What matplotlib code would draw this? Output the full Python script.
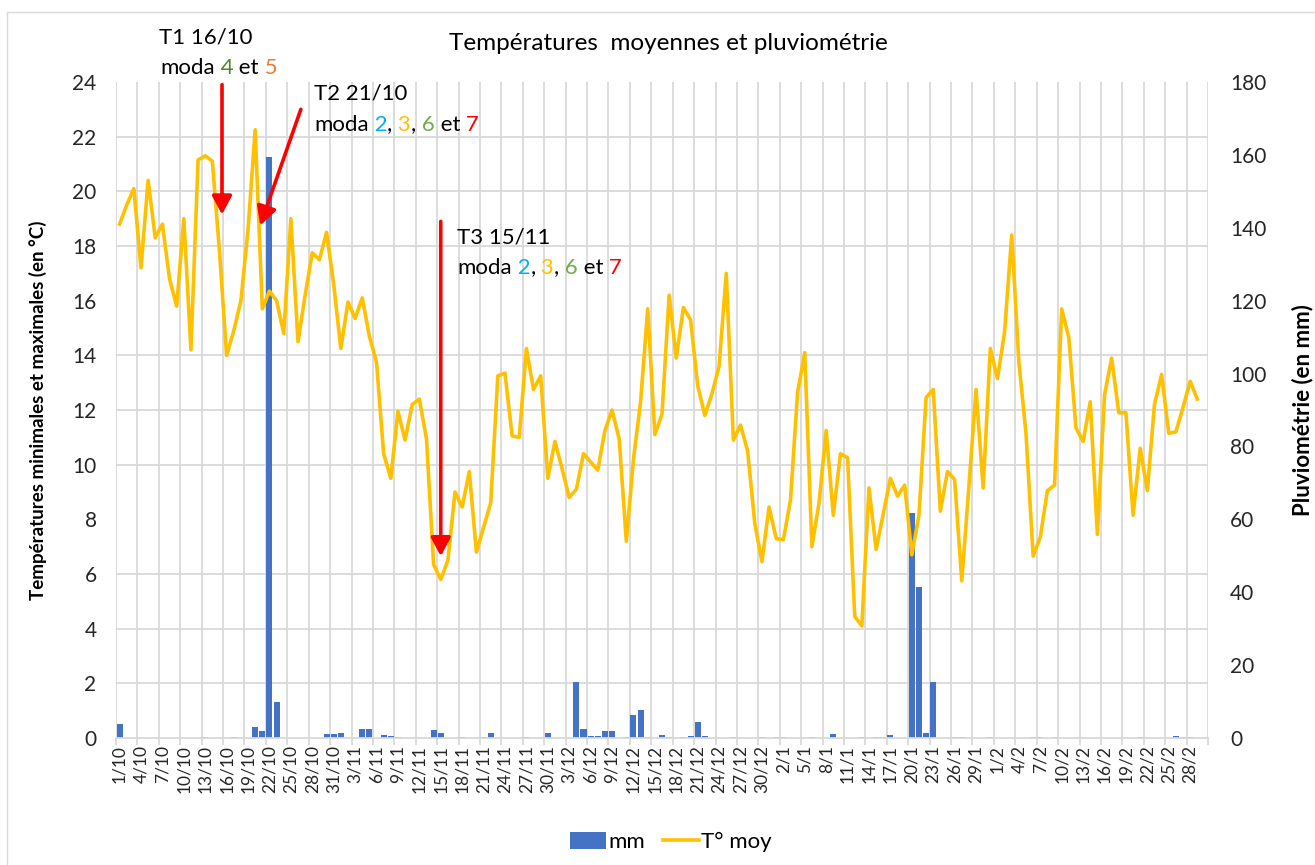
import numpy as np
import matplotlib
matplotlib.use('Agg')
import matplotlib.pyplot as plt
from matplotlib.patches import FancyArrowPatch, Rectangle

plt.rcParams['font.family'] = ['Lato', 'DejaVu Sans']

#one category per day, 1/10 to 2/3
months = [(10, 31), (11, 30), (12, 31), (1, 31), (2, 28), (3, 2)]
dates = [f'{d}/{m}' for m, n in months for d in range(1, n + 1)]

#mean temperature (°C), 1/10 -> 1/3
t_moy = [18.8, 19.5, 20.1, 17.2, 20.4, 18.3, 18.8, 16.8, 15.8, 19.0,
         14.2, 21.15, 21.3, 21.1, 17.8, 14.0, 14.9, 16.0, 18.6, 22.25,
         15.7, 16.35, 16.0, 14.8, 19.0, 14.5, 16.2, 17.75, 17.5, 18.5,
         16.6, 14.25, 15.95, 15.35, 16.1, 14.7, 13.75, 10.4, 9.5, 11.95,
         10.9, 12.2, 12.4, 10.95, 6.35, 5.8, 6.5, 9.0, 8.45, 9.75,
         6.8, 7.7, 8.6, 13.25, 13.35, 11.05, 11.0, 14.25, 12.75, 13.25,
         9.5, 10.85, 9.85, 8.8, 9.1, 10.4, 10.1, 9.8, 11.25, 12.0,
         10.95, 7.2, 10.2, 12.3, 15.7, 11.1, 11.85, 16.2, 13.9, 15.75,
         15.3, 12.9, 11.8, 12.6, 13.6, 17.0, 10.9, 11.45, 10.5, 7.85,
         6.45, 8.45, 7.3, 7.25, 8.7, 12.65, 14.1, 7.0, 8.6, 11.25,
         8.15, 10.4, 10.25, 4.45, 4.1, 9.15, 6.9, 8.2, 9.5, 8.85,
         9.25, 6.7, 8.15, 12.45, 12.75, 8.3, 9.75, 9.45, 5.75, 9.2,
         12.75, 9.15, 14.25, 13.15, 14.85, 18.4, 13.75, 11.15, 6.65, 7.35,
         9.05, 9.25, 15.7, 14.65, 11.35, 10.85, 12.3, 7.45, 12.55, 13.9,
         11.9, 11.9, 8.15, 10.6, 9.05, 12.2, 13.3, 11.15, 11.2, 12.1,
         13.05, 12.4]

#rainfall (mm), only the days with rain
rain_dates = ['1/10', '13/10', '17/10', '20/10', '21/10', '22/10', '23/10', '30/10',
              '31/10', '1/11', '4/11', '5/11', '7/11', '8/11', '9/11', '14/11',
              '15/11', '18/11', '21/11', '22/11', '27/11', '30/11', '4/12', '5/12',
              '6/12', '7/12', '8/12', '9/12', '11/12', '12/12', '13/12', '14/12',
              '16/12', '17/12', '19/12', '20/12', '21/12', '22/12', '26/12', '30/12',
              '1/1', '2/1', '6/1', '9/1', '13/1', '15/1', '16/1', '17/1',
              '20/1', '21/1', '22/1', '23/1', '26/1', '27/1', '31/1', '6/2',
              '7/2', '9/2', '21/2', '26/2', '27/2', '28/2']
rain_mm = [3.9, 0.3, 0.3, 2.9, 1.8, 159.5, 9.9, 1.0,
           1.0, 1.4, 2.6, 2.6, 0.7, 0.5, 0.4, 2.3,
           1.4, 0.3, 0.4, 1.4, 0.3, 1.5, 15.4, 2.4,
           0.5, 0.5, 1.8, 1.8, 0.3, 6.3, 7.6, 0.4,
           0.9, 0.4, 0.3, 0.6, 4.5, 0.6, 0.3, 0.3,
           0.3, 0.3, 0.3, 1.0, 0.3, 0.3, 0.4, 0.7,
           61.8, 41.5, 1.5, 15.3, 0.3, 0.3, 0.3, 0.3,
           0.3, 0.3, 0.3, 0.6, 0.4, 0.3]

x = np.arange(len(dates))
temp = np.full(len(dates), np.nan)
temp[:len(t_moy)] = t_moy
mm = np.zeros(len(dates))
for d, v in zip(rain_dates, rain_mm):
	mm[dates.index(d)] = v

dark = '#262626'
grid_c = '#D9D9D9'

fig = plt.figure(figsize=(13.15, 8.65), dpi=100)
W, H = 1315, 865
ax = fig.add_axes([116 / W, 1 - 738 / H, 1092 / W, 656 / H])
ax2 = ax.twinx()

#rain bars on the secondary (right) scale, drawn under the line
ax.bar(x, mm, width=0.85, color='#4472C4', label='mm', zorder=2)
ax.set_xlim(-0.5, len(dates) - 0.5)
ax.set_ylim(0, 180)
ax.yaxis.tick_right()
ax.yaxis.set_label_position('right')
ax.set_yticks(np.arange(0, 181, 20))
ax.set_yticks(np.arange(0, 181, 15), minor=True)
ax.set_xticks(x[::3])
ax.set_xticklabels(dates[::3], rotation=90)
ax.set_xticks(np.arange(-0.5, len(dates), 3), minor=True)
ax.set_axisbelow(True)
ax.grid(which='minor', color=grid_c, lw=1.3)
ax.tick_params(axis='x', which='major', length=0, pad=5, labelsize=12.5, labelcolor=dark)
ax.tick_params(axis='x', which='minor', length=5, color=grid_c, width=1.3)
ax.tick_params(axis='y', which='both', length=0, pad=16, labelsize=15, labelcolor=dark)
ax.set_ylabel('Pluviométrie (en mm)', fontsize=16, fontweight='bold', color='black')
ax.yaxis.set_label_coords(1.077, 0.5)

#temperature on the primary (left) scale
ax2.plot(x, temp, color='#FFC000', lw=2.6, label='T° moy', solid_joinstyle='round')
ax2.set_ylim(0, 24)
ax2.yaxis.tick_left()
ax2.yaxis.set_label_position('left')
ax2.set_yticks(np.arange(0, 25, 2))
ax2.tick_params(axis='y', length=0, pad=14, labelsize=15, labelcolor=dark)
ax2.set_ylabel('Températures minimales et maximales (en °C)', fontsize=13.5,
               fontweight='bold', color='black')
ax2.yaxis.set_label_coords(-0.0632, 0.5)

for a in (ax, ax2):
	for s in a.spines.values():
		s.set_visible(False)
ax.spines['bottom'].set_visible(True)
ax.spines['bottom'].set_color(grid_c)
ax.spines['bottom'].set_linewidth(1.3)

#title and legend
fig.text(668 / W, 1 - 50 / H, 'Températures  moyennes et pluviométrie',
         ha='center', va='baseline', fontsize=17.5, color='black')
h1, l1 = ax.get_legend_handles_labels()
h2, l2 = ax2.get_legend_handles_labels()
fig.legend(h1 + h2, l1 + l2, loc='center', bbox_to_anchor=(671 / W, 1 - 842 / H), ncol=2,
           frameon=False, fontsize=16, handlelength=1.6, handleheight=0.8,
           handletextpad=0.12, columnspacing=0.8)

#outer chart frame
fig.patches.append(Rectangle((7 / W, -0.01), 1.1, 1 - 12 / H + 0.01, transform=fig.transFigure,
                             fill=False, ec=grid_c, lw=1))

ann_size = 16


def colour_text(px, py, parts, size=ann_size):
	"""writes a line of text made of differently coloured pieces"""
	t = fig.text(px / W, 1 - py / H, parts[0][0], color=parts[0][1], fontsize=size, va='baseline')
	for s, c in parts[1:]:
		t = ax2.annotate(s, xy=(1, 0), xycoords=t, va='bottom', color=c,
		                 fontsize=size, annotation_clip=False)


k = 'black'
fig.text(206 / W, 1 - 43 / H, 'T1 16/10', ha='center', va='baseline', fontsize=ann_size, color=k)
colour_text(160, 74, [('moda', k), (' 4', '#548235'), (' et', k), (' 5', '#ED7D31')])
moda_2367 = [('moda', k), (' 2', '#00B0F0'), (',', k), (' 3', '#FFC000'), (',', k),
             (' 6', '#70AD47'), (' et', k), (' 7', '#FF0000')]
fig.text(314 / W, 1 - 100 / H, 'T2 21/10', va='baseline', fontsize=ann_size, color=k)
colour_text(314, 131, moda_2367)
fig.text(457 / W, 1 - 243 / H, 'T3 15/11', va='baseline', fontsize=ann_size, color=k)
colour_text(457, 274, moda_2367)

#red arrows pointing at the treatment dates
arrows = [((14.35, 23.9), (14.35, 19.15)),
          ((25.4, 23.0), (19.7, 18.75)),
          ((45.0, 18.9), (45.0, 6.65))]
for tail, tip in arrows:
	ax2.add_patch(FancyArrowPatch(tail, tip, arrowstyle='-|>,head_length=0.45,head_width=0.24',
	                              mutation_scale=25, color='#FF0000', lw=2.6,
	                              shrinkA=0, shrinkB=0, clip_on=False, zorder=5))

fig.savefig('out.png', dpi=100)
